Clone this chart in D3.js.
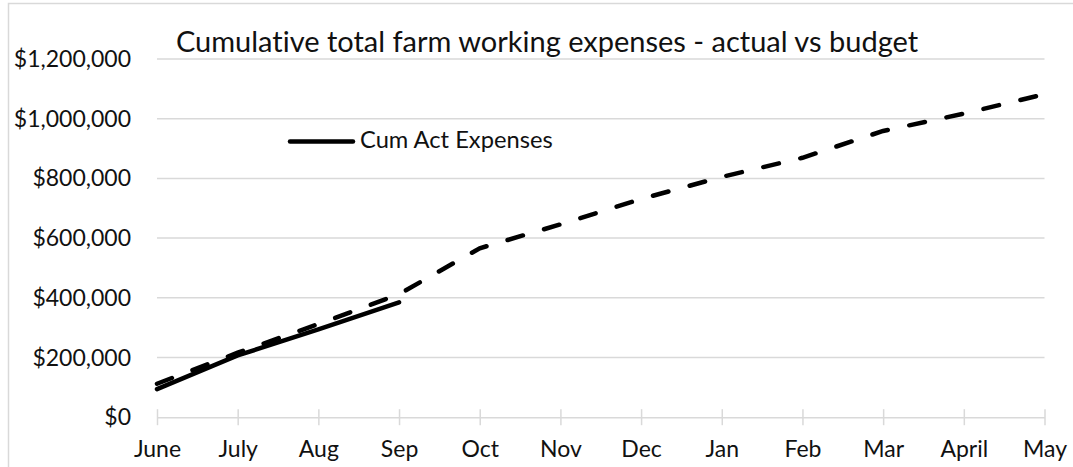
<!DOCTYPE html>
<html>
<head>
<meta charset="utf-8">
<script src="https://cdn.jsdelivr.net/npm/d3@7"></script>
<style>
  body { margin: 0; background: #fff; }
  svg { display: block; font-family: Lato, "Open Sans", sans-serif; font-variant-ligatures: none; }
</style>
</head>
<body>
<svg id="chart" width="1073" height="467"></svg>
<script>
// months along the x axis
const months = ["June", "July", "Aug", "Sep", "Oct", "Nov", "Dec", "Jan", "Feb", "Mar", "April", "May"];
// cumulative actual expenses (only reported up to Sep)
const actual = [94000, 207000, 294000, 385000];
// cumulative budget for the whole year
const budget = [112000, 216000, 312000, 412000, 566000, 646000, 731000, 805000, 869000, 959000, 1017000, 1082000];
const yTicks = [0, 200000, 400000, 600000, 800000, 1000000, 1200000];

const titleText = "Cumulative total farm working expenses - actual vs budget";
const legendText = "Cum Act Expenses";

const svg = d3.select("#chart");
const grey = "#d9d9d9";

// outer chart border (right/bottom run off the picture)
svg.append("rect")
  .attr("x", 8.5).attr("y", 3.5)
  .attr("width", 1100).attr("height", 500)
  .attr("fill", "none").attr("stroke", grey).attr("stroke-width", 1.5);

const x = d3.scalePoint().domain(months).range([157, 1044.5]);
const y = d3.scaleLinear().domain([0, 1200000]).range([417.2, 59]);

// horizontal gridlines
svg.append("g")
  .selectAll("line")
  .data(yTicks.slice(1))
  .join("line")
  .attr("x1", 157).attr("x2", 1044.5)
  .attr("y1", d => y(d)).attr("y2", d => y(d))
  .attr("stroke", grey).attr("stroke-width", 1.5);

// y axis labels
const fmt = d => "$" + d3.format(",")(d);
svg.append("g")
  .selectAll("text")
  .data(yTicks)
  .join("text")
  .attr("x", 131)
  .attr("y", d => y(d))
  .attr("dy", "0.35em")
  .attr("text-anchor", "end")
  .attr("font-size", 23)
  .attr("fill", "#111")
  .text(fmt);

// x axis with ticks crossing the line
const xAxis = svg.append("g")
  .attr("transform", `translate(0,${y(0)})`)
  .call(d3.axisBottom(x).tickSizeInner(8).tickSizeOuter(0).tickPadding(15));
xAxis.select(".domain").attr("stroke", grey).attr("stroke-width", 1.5);
xAxis.selectAll(".tick line")
  .attr("y1", -8)
  .attr("stroke", grey).attr("stroke-width", 1.5);
xAxis.selectAll(".tick text")
  .attr("font-size", 23)
  .attr("font-family", "Lato, sans-serif")
  .attr("fill", "#111");

const line = d3.line()
  .x((d, i) => x(months[i]))
  .y(d => y(d));

// budget - dashed
svg.append("path")
  .datum(budget)
  .attr("d", line)
  .attr("fill", "none")
  .attr("stroke", "#000")
  .attr("stroke-width", 4.5)
  .attr("stroke-linecap", "round")
  .attr("stroke-dasharray", "16,22");

// actual - solid
svg.append("path")
  .datum(actual)
  .attr("d", line)
  .attr("fill", "none")
  .attr("stroke", "#000")
  .attr("stroke-width", 4.5)
  .attr("stroke-linecap", "round");

// title
svg.append("text")
  .attr("x", 547).attr("y", 52)
  .attr("text-anchor", "middle")
  .attr("font-size", 29)
  .attr("fill", "#111")
  .text(titleText);

// legend
const lg = svg.append("g");
lg.append("line")
  .attr("x1", 290).attr("x2", 353)
  .attr("y1", 141.5).attr("y2", 141.5)
  .attr("stroke", "#000").attr("stroke-width", 4.5)
  .attr("stroke-linecap", "round");
lg.append("text")
  .attr("x", 360).attr("y", 148)
  .attr("font-size", 23.7)
  .attr("fill", "#111")
  .text(legendText);
</script>
</body>
</html>
